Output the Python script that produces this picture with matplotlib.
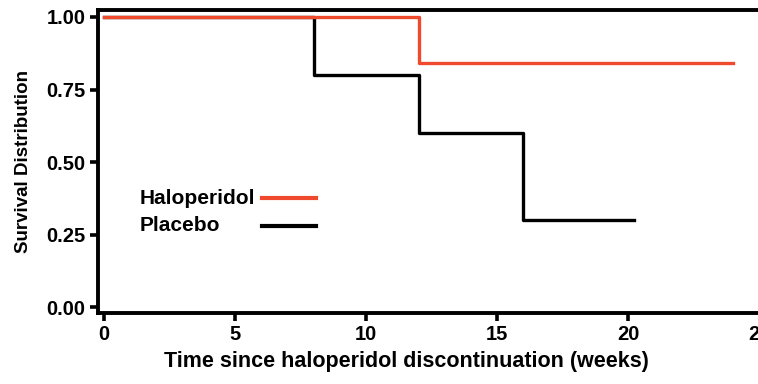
import matplotlib
matplotlib.use("Agg")
import matplotlib.pyplot as plt
from matplotlib.lines import Line2D

plt.rcParams['font.family'] = ['Liberation Sans', 'DejaVu Sans']

# Data (Kaplan-Meier step curves)
halo_t = [0, 12, 24]
halo_s = [1.00, 0.84, 0.84]
plac_t = [0, 8, 12, 16, 20.2]
plac_s = [1.00, 0.80, 0.60, 0.30, 0.30]

xticks = [0, 5, 10, 15, 20, 25]
yticks = [0.00, 0.25, 0.50, 0.75, 1.00]
series_names = ['Haloperidol', 'Placebo']

red = '#F04A2E'
colors = [red, 'black']

fig = plt.figure(figsize=(7.58, 3.84), dpi=100)
ax = fig.add_axes([0.129, 0.185, 0.873, 0.789])

ax.step(plac_t, plac_s, where='post', color='black', lw=2.4, zorder=2)
ax.step(halo_t, halo_s, where='post', color=red, lw=2.4, zorder=3)

ax.set_xlim(-0.23, 25.0)
ax.set_ylim(-0.02, 1.024)
ax.set_xticks(xticks)
ax.set_xticklabels([str(v) for v in xticks])
ax.set_yticks(yticks)
ax.set_yticklabels([f"{v:.2f}" for v in yticks])

for s in ax.spines.values():
    s.set_linewidth(2.8)
ax.tick_params(direction='out', length=6, width=2.6, labelsize=14.5, pad=3)
for lab in ax.get_xticklabels() + ax.get_yticklabels():
    lab.set_fontweight('bold')

ax.set_xlabel('Time since haloperidol discontinuation (weeks)', fontsize=15.5,
              fontweight='bold')
ax.xaxis.set_label_coords(0.467, -0.125)
ax.set_ylabel('Survival Distribution', fontsize=13.5, fontweight='bold', labelpad=10)

# Legend: left-aligned labels followed by line samples
leg_y = [0.378, 0.288]
for name, c, yy in zip(series_names, colors, leg_y):
    ax.text(0.0635, yy, name, transform=ax.transAxes, fontsize=15,
            fontweight='bold', va='center', ha='left')
    ax.add_line(Line2D([0.248, 0.330], [yy, yy], transform=ax.transAxes,
                       color=c, lw=3.0))

fig.savefig('out.png', dpi=100)
